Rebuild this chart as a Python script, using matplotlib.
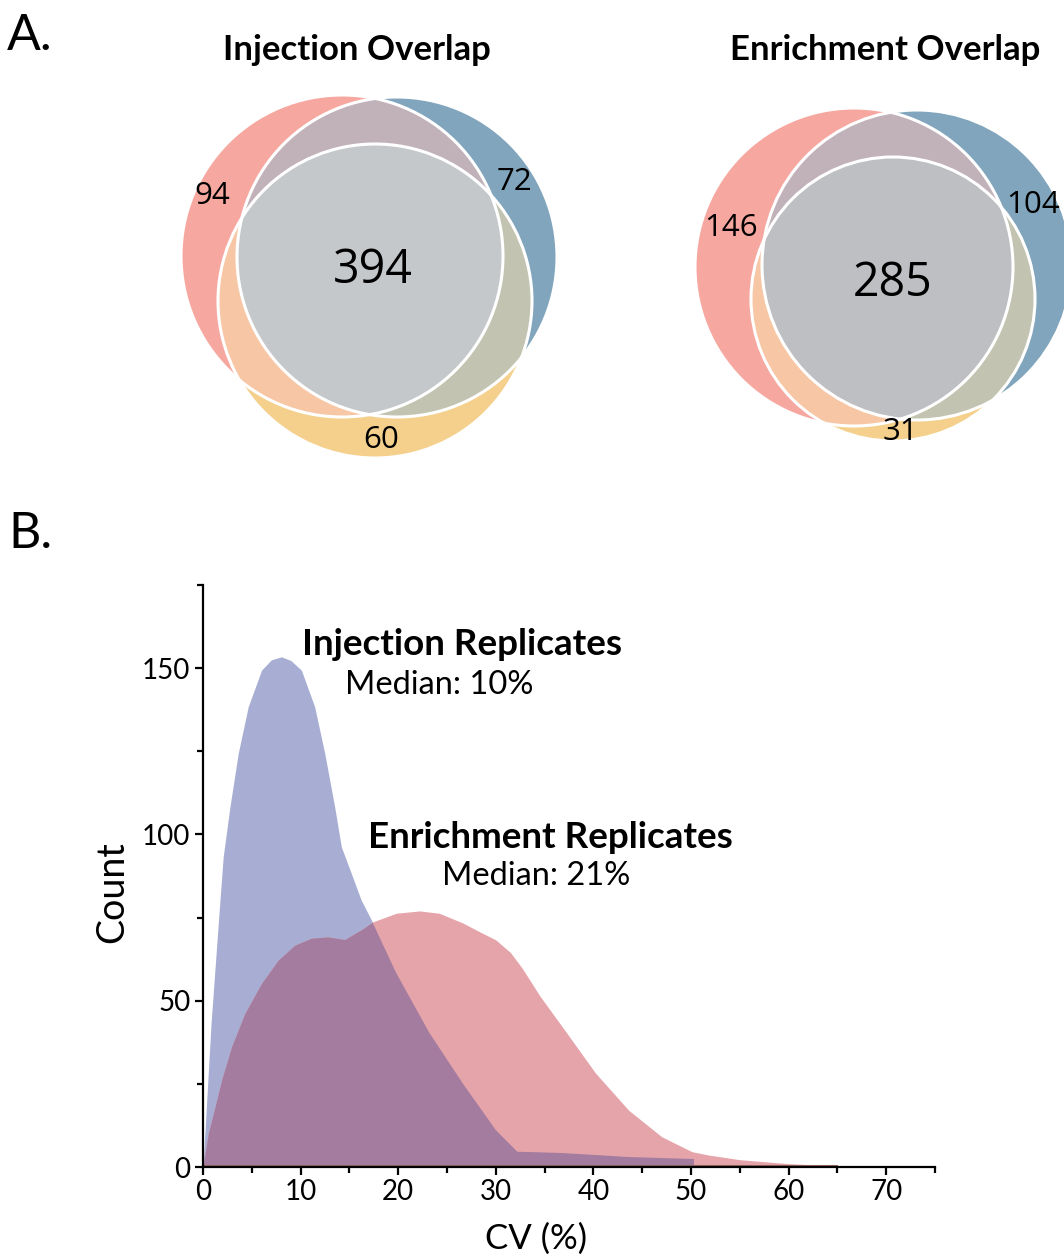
import numpy as np
import matplotlib.pyplot as plt
from matplotlib.patches import Circle, Polygon
from matplotlib.ticker import MultipleLocator

# Venn counts: unique to first / second / third set, and shared by all three
inj_unique = [94, 72, 60]
inj_shared = 394
enr_unique = [146, 104, 31]
enr_shared = 285

# CV distributions
inj_cv = [0, 0.82, 1.74, 2.07, 2.76, 3.61, 4.63, 6.0, 7.0, 8.04, 9.0, 10.08, 11.44, 12.47,
          13.49, 14.17, 15.19, 16.2, 17.3, 19.8, 23.2, 26.6, 30.0, 32.2, 36.8, 43.6, 50.3, 50.3]
inj_count = [0, 43, 80.3, 93.3, 108.3, 124.4, 138.4, 149.4, 152.5, 153.4, 152.3, 149.4, 138.4,
             124.4, 108.3, 96.3, 88.3, 80.3, 74, 58.3, 40.3, 25.2, 11.1, 4.6, 4.2, 3.0, 2.4, 0]

enr_cv = [0, 0.54, 1.23, 1.91, 2.93, 4.29, 5.99, 7.7, 9.4, 11.1, 12.8, 14.5, 16.2, 17.4, 19.8,
          22.2, 24.2, 26.6, 28.5, 30.0, 31.5, 32.7, 34.5, 36.8, 40.2, 43.6, 47.0, 50.1, 51.8,
          55, 60, 65, 70]
enr_count = [0, 10.1, 18.1, 26.2, 36.2, 46.2, 55.2, 62.2, 66.7, 68.8, 69.2, 68.4, 71.3, 73.7,
             76.3, 77, 76.3, 73.4, 70.5, 68.3, 64.5, 59.8, 51.5, 42.2, 28.3, 17.1, 9.1, 4.6,
             3.6, 2.2, 1.0, 0.3, 0]

# venn layout (pixel space of the top panel): red, blue, yellow circles (x, y, r)
left_circles = [(342, 256, 161), (397, 257, 160), (375, 301, 157)]
right_circles = [(854, 267, 159), (917, 265, 155), (893, 299, 142)]

set_colors = ['#F6A8A0', '#80A5BC', '#F4D08C']
pair_colors = {(0, 1): '#C1B1B9', (0, 2): '#F7C6A5', (1, 2): '#C2C3B0'}

plt.rcParams['font.family'] = ['Lato', 'DejaVu Sans']

fig = plt.figure(figsize=(10.64, 12.58), dpi=100)


def intersection(circles):
    # convex region shared by all given circles, as a polygon
    pts = []
    t = np.linspace(0, 2 * np.pi, 1440, endpoint=False)
    for (cx, cy, r) in circles:
        px = cx + r * np.cos(t)
        py = cy + r * np.sin(t)
        ok = np.ones(len(t), dtype=bool)
        for (ox, oy, orr) in circles:
            ok &= (px - ox) ** 2 + (py - oy) ** 2 <= orr ** 2 + 1e-6 + 2 * orr
        pts += list(zip(px[ok], py[ok]))
    pts = np.array(pts)
    c = pts.mean(axis=0)
    ang = np.arctan2(pts[:, 1] - c[1], pts[:, 0] - c[0])
    return pts[np.argsort(ang)]


def venn(ax, circles, gray):
    for (cx, cy, r), col in zip(circles, set_colors):
        ax.add_patch(Circle((cx, cy), r, facecolor=col, edgecolor='none'))
    for (i, j), col in pair_colors.items():
        ax.add_patch(Polygon(intersection([circles[i], circles[j]]), facecolor=col, edgecolor='none'))
    ax.add_patch(Polygon(intersection(circles), facecolor=gray, edgecolor='none'))
    for (cx, cy, r) in circles:
        ax.add_patch(Circle((cx, cy), r, facecolor='none', edgecolor='white', lw=2.2))


# ---- panel A ----
axv = fig.add_axes([0, 1 - 480 / 1258, 1, 480 / 1258])
axv.set_xlim(0, 1064)
axv.set_ylim(480, 0)
axv.axis('off')

venn(axv, left_circles, '#C4C8CB')
venn(axv, right_circles, '#BEBFC2')

num_font = ['Open Sans', 'DejaVu Sans']
for (x, y), v in zip([(212, 196), (515, 182), (381, 440)], inj_unique):
    axv.text(x, y, str(v), ha='center', va='center', fontsize=22.5, family=num_font)
axv.text(373, 270, str(inj_shared), ha='center', va='center', fontsize=33.5, family=num_font)
for (x, y), v in zip([(731, 228), (1033, 205), (900, 432)], enr_unique):
    axv.text(x, y, str(v), ha='center', va='center', fontsize=22.5, family=num_font)
axv.text(893, 283, str(enr_shared), ha='center', va='center', fontsize=33.5, family=num_font)

axv.text(357, 50, 'Injection Overlap', ha='center', va='center', fontsize=25, fontweight='bold')
axv.text(885, 50, 'Enrichment Overlap', ha='center', va='center', fontsize=25, fontweight='bold')

fig.text(30 / 1064, 1 - 36 / 1258, 'A.', ha='center', va='center', fontsize=36)
fig.text(30 / 1064, 1 - 534 / 1258, 'B.', ha='center', va='center', fontsize=36)

# ---- panel B ----
ax = fig.add_axes([203 / 1064, 1 - 1167 / 1258, (935 - 203) / 1064, (1167 - 585) / 1258])

ax.fill_between(inj_cv, 0, inj_count, color='#A8AED3', lw=0)
ax.fill_between(enr_cv, 0, enr_count, color='#E5A4AA', lw=0)
# overlap: enrichment area clipped to the injection area
clip = Polygon(np.column_stack([inj_cv, inj_count]), closed=True, transform=ax.transData)
ov = ax.fill_between(enr_cv, 0, enr_count, color='#A37C9F', lw=0)
ov.set_clip_path(clip)
ax.plot([0, 65], [0.4, 0.4], color='#9A6A62', lw=1.5)

ax.set_xlim(0, 75)
ax.set_ylim(0, 175)
ax.xaxis.set_major_locator(MultipleLocator(10))
ax.xaxis.set_minor_locator(MultipleLocator(5))
ax.yaxis.set_major_locator(MultipleLocator(50))
ax.yaxis.set_minor_locator(MultipleLocator(25))
ax.spines['top'].set_visible(False)
ax.spines['right'].set_visible(False)
for s in ['left', 'bottom']:
    ax.spines[s].set_linewidth(1.6)
ax.tick_params(which='major', length=6, width=1.6, labelsize=20, pad=3)
ax.tick_params(which='minor', length=4, width=1.6)

ax.set_xlabel('CV (%)', fontsize=25)
ax.xaxis.set_label_coords(0.455, -0.095)
ax.set_ylabel('Count', fontsize=27)
ax.yaxis.set_label_coords(-0.10, 0.472)

ax.text(26.5, 157, 'Injection Replicates', ha='center', va='center', fontsize=26.5, fontweight='bold')
ax.text(24.2, 145, 'Median: 10%', ha='center', va='center', fontsize=23.5)
ax.text(35.6, 99, 'Enrichment Replicates', ha='center', va='center', fontsize=26.5, fontweight='bold')
ax.text(34.1, 87.5, 'Median: 21%', ha='center', va='center', fontsize=23.5)

fig.savefig('out.png', dpi=100)
